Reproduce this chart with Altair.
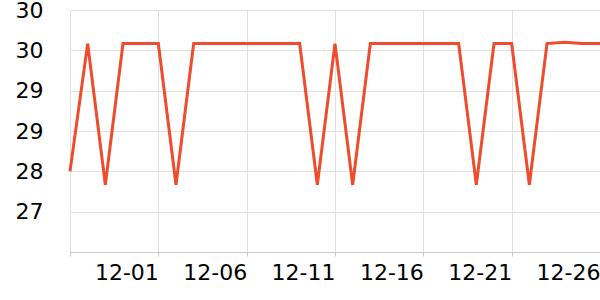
import altair as alt
import pandas as pd

dates = pd.date_range("2023-11-26", "2023-12-26", freq="D").strftime("%Y-%m-%d").tolist()
values = [28.0, 29.9, 27.8, 29.9, 29.9, 29.9, 27.8, 29.9, 29.9, 29.9,
          29.9, 29.9, 29.9, 29.9, 27.8, 29.9, 27.8, 29.9, 29.9, 29.9,
          29.9, 29.9, 29.9, 27.8, 29.9, 29.9, 27.8, 29.9, 29.92, 29.9, 29.9]
x_ticks = ["2023-11-26", "2023-12-01", "2023-12-06", "2023-12-11", "2023-12-16", "2023-12-21", "2023-12-26"]
y_ticks = [26.8, 27.4, 28.0, 28.6, 29.2, 29.8, 30.4]

df = pd.DataFrame({"date": dates, "value": values})

x_tick_ms = [pd.Timestamp(d).value // 10**6 for d in x_ticks]

chart = alt.Chart(df).mark_line(color="#ef4b2d", strokeWidth=3).encode(
    x=alt.X("date:T", title=None,
            scale=alt.Scale(type="utc", domain=[x_ticks[0], x_ticks[-1]]),
            axis=alt.Axis(values=x_tick_ms,
                          labelExpr="datum.value < 1701388800000 ? '' : utcFormat(datum.value, '%m-%d')",
                          labelAlign="right", labelFont="DejaVu Sans", labelFontSize=22,
                          labelColor="#000", labelPadding=6, tickSize=4, tickColor="#c8c8c8",
                          domainColor="#c8c8c8", gridColor="#e0e0e0", labelOverlap=False,
                          labelFlush=False)),
    y=alt.Y("value:Q", title=None,
            scale=alt.Scale(domain=[y_ticks[0], y_ticks[-1]], zero=False, nice=False),
            axis=alt.Axis(values=y_ticks,
                          labelExpr="datum.value < 27 ? '' : format(datum.value, '.0f')",
                          labelFont="DejaVu Sans", labelFontSize=22, labelColor="#000",
                          ticks=False, domain=False, labelPadding=27, gridColor="#e0e0e0",
                          labelBaseline="middle"))
).properties(
    width=530, height=242,
    autosize=alt.AutoSizeParams(type="none"),
    padding={"left": 70, "top": 10, "right": 0, "bottom": 48}
).configure_view(stroke=None)

chart.save("out.html", embed_options={"renderer": "svg", "actions": False})
